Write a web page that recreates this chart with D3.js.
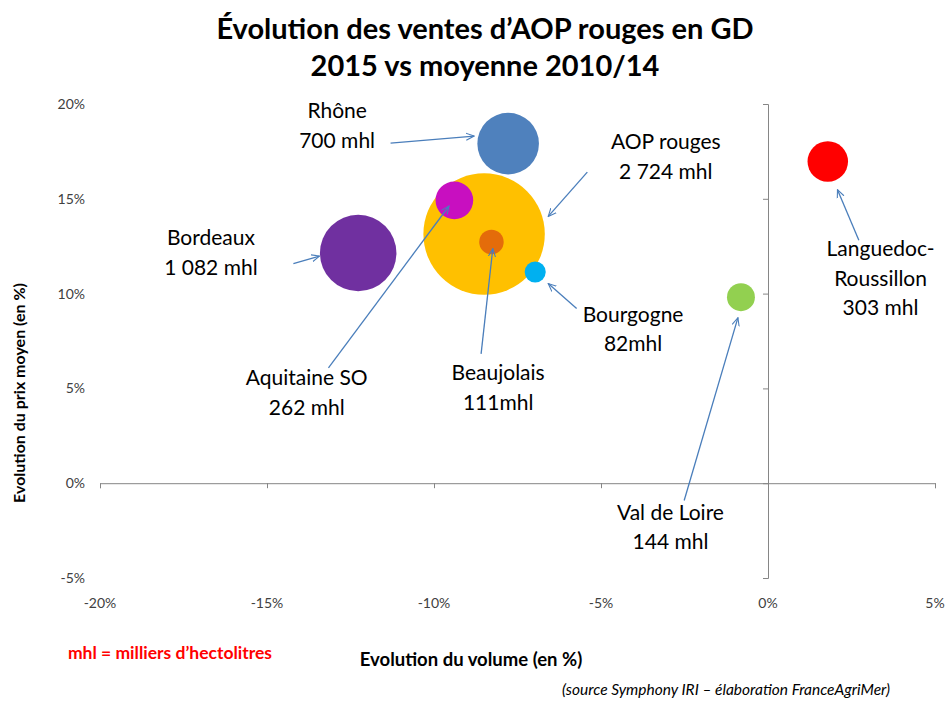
<!DOCTYPE html>
<html>
<head>
<meta charset="utf-8">
<script src="https://cdn.jsdelivr.net/npm/d3@7"></script>
<style>
  body { margin: 0; background: #fff; }
  svg { display: block; font-family: Lato, "Open Sans", sans-serif; }
</style>
</head>
<body>
<svg id="chart" width="945" height="702"></svg>
<script>
// ---- Data ----
const regions = ["AOP rouges", "Rhône", "Bordeaux", "Aquitaine SO", "Beaujolais", "Bourgogne", "Languedoc-Roussillon", "Val de Loire"];
const volumeChange = [-8.50, -7.78, -12.27, -9.39, -8.28, -6.97, 1.79, -0.81];   // % x
const priceChange  = [13.14, 17.91, 12.14, 14.92, 12.72, 11.14, 16.97, 9.81];    // % y
const volumes      = [2724, 700, 1082, 262, 111, 82, 303, 144];                  // mhl
const labelLines   = [["AOP rouges", "2 724 mhl"], ["Rhône", "700 mhl"], ["Bordeaux", "1 082 mhl"],
                      ["Aquitaine SO", "262 mhl"], ["Beaujolais", "111mhl"], ["Bourgogne", "82mhl"],
                      ["Languedoc-", "Roussillon", "303 mhl"], ["Val de Loire", "144 mhl"]];
const colors       = ["#FFC000", "#4F81BD", "#7030A0", "#C80FC0", "#E46C0A", "#00B0F0", "#FF0000", "#92D050"];
const xTicks = [-20, -15, -10, -5, 0, 5];
const yTicks = [-5, 0, 5, 10, 15, 20];

// ---- Annotation layout (in data units, %) ----
const labelPos  = [[-3.06, 17.98], [-12.90, 19.63], [-16.68, 12.91], [-13.81, 5.54], [-8.08, 5.81], [-4.04, 8.88], [3.37, 12.34], [-2.92, -1.55]];
const arrowFrom = [[-5.41, 16.41], [-11.30, 17.94], [-14.21, 11.58], [-13.16, 6.08], [-8.59, 6.82], [-5.73, 9.21], [2.72, 12.81], [-2.51, -0.91]];
const arrowTo   = [[-6.58, 14.07], [-8.80, 18.31], [-13.43, 11.98], [-9.55, 14.62], [-8.24, 12.37], [-6.58, 10.53], [2.08, 15.48], [-0.90, 8.73]];

const svg = d3.select("#chart");
const x = d3.scaleLinear().domain([-20, 5]).range([100, 935]);
const y = d3.scaleLinear().domain([-5, 20]).range([578, 104]);
const r = d3.scaleSqrt().domain([0, 2724]).range([0, 60.7]);
const fmt = d => d + "%";
const axisColor = "#868686";

// x axis at y=0
const gx = svg.append("g").attr("transform", `translate(0,${y(0)})`)
  .call(d3.axisBottom(x).tickValues(xTicks).tickSize(5).tickFormat(""));
gx.select(".domain").attr("stroke", axisColor);
gx.selectAll(".tick line").attr("stroke", axisColor);

// y axis at x=0
const gy = svg.append("g").attr("transform", `translate(${x(0)},0)`)
  .call(d3.axisLeft(y).tickValues(yTicks).tickSize(5).tickFormat(""));
gy.select(".domain").attr("stroke", axisColor);
gy.selectAll(".tick line").attr("stroke", axisColor);

// tick labels at edges
svg.append("g").selectAll("text").data(xTicks).join("text")
  .attr("x", d => x(d)).attr("y", 608).attr("text-anchor", "middle")
  .attr("font-size", 14).attr("fill", "#404040").text(fmt);
svg.append("g").selectAll("text").data(yTicks).join("text")
  .attr("x", 85).attr("y", d => y(d) + 5).attr("text-anchor", "end")
  .attr("font-size", 14).attr("fill", "#404040").text(fmt);

// bubbles (largest first)
const idx = d3.range(regions.length).sort((a, b) => volumes[b] - volumes[a]);
svg.append("g").selectAll("circle").data(idx).join("circle")
  .attr("cx", i => x(volumeChange[i])).attr("cy", i => y(priceChange[i]))
  .attr("r", i => r(volumes[i])).attr("fill", i => colors[i]);

// arrows
svg.append("defs").append("marker").attr("id", "arr")
  .attr("viewBox", "0 0 10 10").attr("refX", 9).attr("refY", 5)
  .attr("markerWidth", 9).attr("markerHeight", 9).attr("markerUnits", "userSpaceOnUse")
  .attr("orient", "auto")
  .append("path").attr("d", "M0,1 L9,5 L0,9").attr("fill", "none")
  .attr("stroke", "#4A7EBB").attr("stroke-width", 1.2);

svg.append("g").selectAll("line").data(d3.range(regions.length)).join("line")
  .attr("x1", i => x(arrowFrom[i][0])).attr("y1", i => y(arrowFrom[i][1]))
  .attr("x2", i => x(arrowTo[i][0])).attr("y2", i => y(arrowTo[i][1]))
  .attr("stroke", "#4A7EBB").attr("stroke-width", 1.3).attr("marker-end", "url(#arr)");

// labels
const lbl = svg.append("g").selectAll("text").data(d3.range(regions.length)).join("text")
  .attr("text-anchor", "middle").attr("font-size", 21).attr("fill", "#000")
  .attr("x", i => x(labelPos[i][0])).attr("y", i => y(labelPos[i][1]) + 7);
lbl.each(function(i) {
  const t = d3.select(this);
  labelLines[i].forEach((line, k) => {
    t.append("tspan").attr("x", x(labelPos[i][0])).attr("dy", k === 0 ? 0 : 29.5).text(line);
  });
});

// titles
svg.append("text").attr("x", 485).attr("y", 39).attr("text-anchor", "middle")
  .attr("font-size", 29).attr("font-weight", "bold").text("Évolution des ventes d’AOP rouges en GD");
svg.append("text").attr("x", 485).attr("y", 76).attr("text-anchor", "middle")
  .attr("font-size", 29).attr("font-weight", "bold").text("2015 vs moyenne 2010/14");

svg.append("text").attr("transform", "translate(25,393) rotate(-90)").attr("text-anchor", "middle")
  .attr("font-size", 16).attr("font-weight", "bold").text("Evolution du prix moyen (en %)");
svg.append("text").attr("x", 471).attr("y", 666).attr("text-anchor", "middle")
  .attr("font-size", 18.5).attr("font-weight", "bold").text("Evolution du volume (en %)");
svg.append("text").attr("x", 170).attr("y", 659).attr("text-anchor", "middle")
  .attr("font-size", 17.5).attr("font-weight", "bold").attr("fill", "#FF0000").text("mhl = milliers d’hectolitres");
svg.append("text").attr("x", 726).attr("y", 695).attr("text-anchor", "middle")
  .attr("font-size", 15.5).attr("font-style", "italic").text("(source Symphony IRI – élaboration FranceAgriMer)");
</script>
</body>
</html>
